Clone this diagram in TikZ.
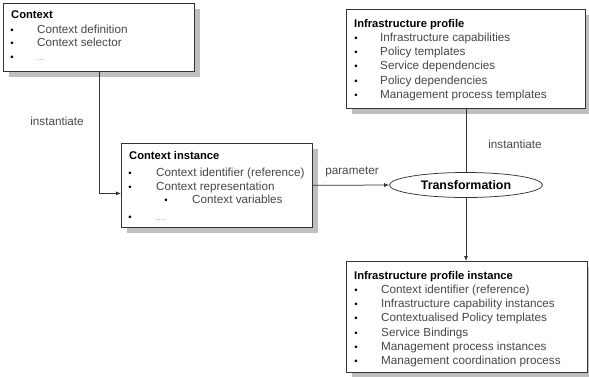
\documentclass[tikz,border=0pt]{standalone}
\usepackage{fontspec}
\setmainfont{Liberation Sans}
\usetikzlibrary{shapes.geometric,shadows,arrows.meta}

\tikzset{
  panel/.style={draw=black!80, line width=0.75pt, fill=white, rectangle, anchor=north west,
    inner sep=0pt, drop shadow={shadow xshift=6pt, shadow yshift=-6pt, fill=black!25, opacity=1}},
  head/.style={anchor=base west, inner sep=0pt, font=\fontsize{11.2}{13}\selectfont\bfseries, text=black},
  item/.style={anchor=base west, inner sep=0pt, font=\fontsize{11.7}{13}\selectfont, text=black!72},
  dot/.style={anchor=base, inner sep=0pt, font=\fontsize{9.5}{12}\selectfont, text=black},
  faint/.style={anchor=base west, inner sep=0pt, font=\fontsize{9}{12}\selectfont, text=black!40},
  tag/.style={inner sep=0pt, font=\fontsize{11.7}{13}\selectfont, text=black!72},
  link/.style={draw=black!80, line width=0.75pt},
  tip/.style={-{Latex[length=5pt,width=4pt]}}
}

\begin{document}
\begin{tikzpicture}[x=1pt, y=-1pt]
\useasboundingbox (0,0) rectangle (589,377);

% Context
\node[panel, minimum width=191pt, minimum height=68pt] (ctx) at (3,3) {};
\node[head] (ctxt) at (11,19) {Context};
\node[dot] (ctxb1) at (12,34) {•};
\node[item] (ctx1) at (37,34) {Context definition};
\node[dot] (ctxb2) at (12,47) {•};
\node[item] (ctx2) at (37,47) {Context selector};
\node[dot] (ctxb3) at (12,61) {•};
\node[faint] (ctx3) at (37,61) {...};

% Context instance
\node[panel, minimum width=191pt, minimum height=84pt] (ci) at (121,143) {};
\node[head] (cit) at (129,160) {Context instance};
\node[dot] (cib1) at (130,176) {•};
\node[item] (ci1) at (156,176) {Context identifier (reference)};
\node[dot] (cib2) at (130,190) {•};
\node[item] (ci2) at (156,190) {Context representation};
\node[dot] (cib3) at (166,204) {•};
\node[item] (ci3) at (192,204) {Context variables};
\node[dot] (cib4) at (130,220) {•};
\node[faint] (ci4) at (156,220) {....};

% Infrastructure profile
\node[panel, minimum width=239pt, minimum height=99pt] (ip) at (346,9) {};
\node[head] (ipt) at (354,28) {Infrastructure profile};
\node[dot] (ipb1) at (356,42) {•};
\node[item] (ip1) at (380,42) {Infrastructure capabilities};
\node[dot] (ipb2) at (356,56) {•};
\node[item] (ip2) at (380,56) {Policy templates};
\node[dot] (ipb3) at (356,70) {•};
\node[item] (ip3) at (380,70) {Service dependencies};
\node[dot] (ipb4) at (356,85) {•};
\node[item] (ip4) at (380,85) {Policy dependencies};
\node[dot] (ipb5) at (356,99) {•};
\node[item] (ip5) at (380,99) {Management process templates};

% Transformation
\node[draw=black!80, line width=0.75pt, fill=white, ellipse, inner sep=0pt,
      minimum width=153pt, minimum height=25pt,
      font=\fontsize{12.4}{14}\selectfont\bfseries] (tr) at (466,185) {Transformation};

% Infrastructure profile instance
\node[panel, minimum width=241pt, minimum height=111pt] (ipi) at (346,261) {};
\node[head] (ipit) at (354,279) {Infrastructure profile instance};
\node[dot] (ipib1) at (356,293) {•};
\node[item] (ipi1) at (381,293) {Context identifier (reference)};
\node[dot] (ipib2) at (356,307) {•};
\node[item] (ipi2) at (381,307) {Infrastructure capability instances};
\node[dot] (ipib3) at (356,321) {•};
\node[item] (ipi3) at (381,321) {Contextualised Policy templates};
\node[dot] (ipib4) at (356,336) {•};
\node[item] (ipi4) at (381,336) {Service Bindings};
\node[dot] (ipib5) at (356,350) {•};
\node[item] (ipi5) at (381,350) {Management process instances};
\node[dot] (ipib6) at (356,364) {•};
\node[item] (ipi6) at (381,364) {Management coordination process};

% Connectors
\draw[link, tip] (ctx.south) |- ([yshift=-8pt]ci.west);
\draw[link, tip] (ci.east) -- (tr.west);
\draw[link] (ip.south -| tr.north) -- (tr.north);
\draw[link, tip] (tr.south) -- (ipi.north -| tr.south);

% Labels
\node[tag] (lab1) at (57,121) {instantiate};
\node[tag] (lab2) at (352,172) {parameter};
\node[tag] (lab3) at (515,144) {instantiate};
\end{tikzpicture}
\end{document}
